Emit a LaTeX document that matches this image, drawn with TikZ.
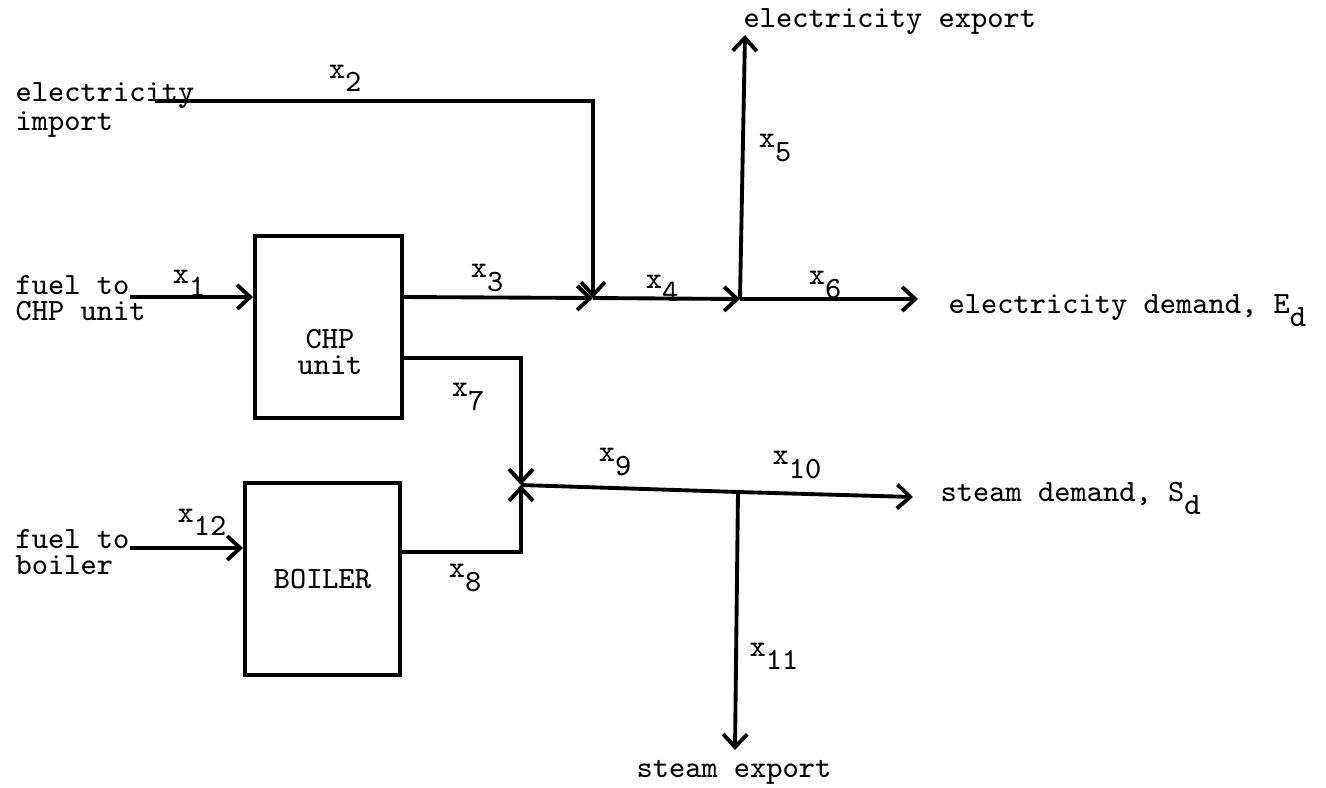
\documentclass[tikz,border=0pt]{standalone}
\usepackage{tikz}
\usetikzlibrary{arrows.meta,positioning}
\newcommand{\xsub}[2]{#1\raisebox{-1ex}{#2}}

\begin{document}
\begin{tikzpicture}[
  x=0.01cm, y=-0.01cm,
  font=\ttfamily\fontsize{8.8}{7.2}\selectfont,
  unitbox/.style={draw, line width=1.1pt, inner sep=0pt},
  txt/.style={align=left, inner sep=0pt, anchor=west},
  lbl/.style={inner sep=0pt},
  line/.style={line width=1.1pt},
  flow/.style={line width=1.1pt, -{Straight Barb[length=1.3mm, width=2.4mm]}}
]
\useasboundingbox (0,0) rectangle (1326,787);
\node[unitbox, minimum width=1.47cm, minimum height=1.82cm] (chp) at (328.5,327) {};
\node[lbl, align=center] (chptxt) at (330,352) {CHP\\unit};
\node[unitbox, minimum width=1.55cm, minimum height=1.92cm] (boiler) at (322.5,579) {BOILER};
\node[txt] (elimp) at (15,110) {electricity\\import};
\node[txt] (fuelchp) at (15,298) {fuel to\\CHP unit};
\node[txt] (fuelboil) at (15,552) {fuel to\\boiler};
\node[lbl, anchor=base west] (elexp) at (743,27) {electricity export};
\node[lbl, anchor=base west] (eldem) at (948,313) {electricity demand, \xsub{E}{d}};
\node[lbl, anchor=base west] (stdem) at (940,501) {steam demand, \xsub{S}{d}};
\node[lbl] (stexp) at (734,772) {steam export};
\node[lbl] (x1) at (189,283) {\xsub{x}{1}};
\node[lbl] (x2) at (345,78) {\xsub{x}{2}};
\node[lbl] (x3) at (487,278) {\xsub{x}{3}};
\node[lbl] (x4) at (662,288) {\xsub{x}{4}};
\node[lbl] (x5) at (775,148) {\xsub{x}{5}};
\node[lbl] (x6) at (825,285) {\xsub{x}{6}};
\node[lbl] (x7) at (468,397) {\xsub{x}{7}};
\node[lbl] (x8) at (465,578) {\xsub{x}{8}};
\node[lbl] (x9) at (615,462) {\xsub{x}{9}};
\node[lbl] (x10) at (797,465) {\xsub{x}{10}};
\node[lbl] (x11) at (774,656) {\xsub{x}{11}};
\node[lbl] (x12) at (202,522) {\xsub{x}{12}};
\coordinate (impend) at (155,101);
\coordinate (impbend) at (593,101);
\coordinate (chpin) at (130,297);
\coordinate (boilin) at (130,548);
\coordinate (elmix) at (593,298);
\coordinate (elsplit) at (740,299);
\coordinate (elexptip) at (745,35);
\coordinate (eldemtip) at (918,299);
\coordinate (stmix) at (521,485);
\coordinate (stsplit) at (738,492);
\coordinate (stdemtip) at (913,497);
\coordinate (stexptip) at (735,750);
\draw[flow] (chpin) -- (chp.west |- chpin);
\draw[flow] (boilin) -- (boiler.west |- boilin);
\draw[flow] (impend) -- (impbend) -- (elmix);
\draw[flow] (chp.east |- chpin) -- (elmix);
\draw[flow] (elmix) -- (elsplit);
\draw[flow] (elsplit) -- (elexptip);
\draw[flow] (elsplit) -- (eldemtip);
\draw[flow] (chp.east |- 0,358) -- (stmix |- 0,358) -- (stmix);
\draw[flow] (boiler.east |- 0,552) -- (stmix |- 0,552) -- (stmix);
\draw[line] (stmix) -- (stsplit);
\draw[flow] (stsplit) -- (stdemtip);
\draw[flow] (stsplit) -- (stexptip);
\end{tikzpicture}
\end{document}
